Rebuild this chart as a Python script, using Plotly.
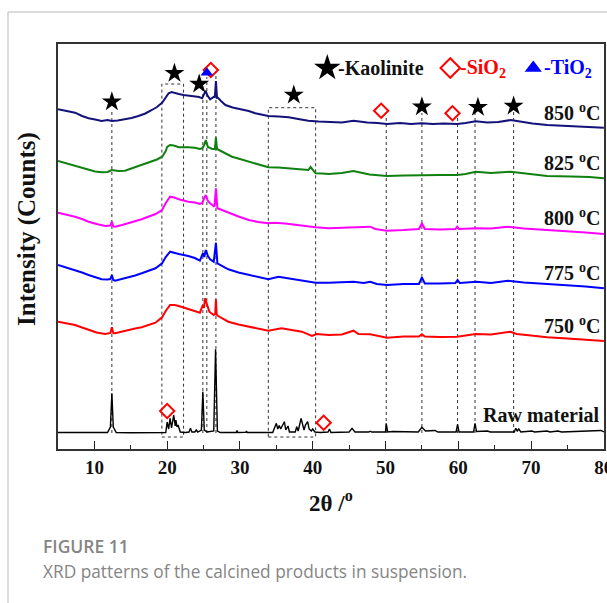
import plotly.graph_objects as go

# ---------------- XRD patterns (2theta in degrees, intensity in stacked arbitrary units) -------------
tt_850 = [5.0, 6.0, 7.35, 8.3, 9.2, 10.1, 11.0, 11.8, 12.4, 13.2,
          14.2, 15.1, 16.05, 17.0, 17.9, 18.6, 19.3, 19.8, 20.2, 20.6,
          21.1, 21.6, 22.25, 23.0, 23.85, 24.4, 24.8, 25.1, 25.3, 25.5,
          25.9, 26.45, 26.55, 26.7, 26.85, 26.9, 27.4, 28.0, 29.0, 30.3,
          31.2, 32.1, 33.0, 33.9, 35.3, 36.7, 38.0, 39.4, 40.8, 42.2,
          44.0, 45.6, 47.5, 48.9, 50.2, 52.0, 53.5, 55.0, 56.5, 58.0,
          59.85, 61.0, 62.4, 64.0, 65.5, 67.2, 68.5, 70.2, 72.2, 74.0,
          76.0, 78.0, 80.0]
i_850 = [339.7, 338.5, 336.3, 333, 330.7, 329.5, 328, 329, 328, 328.5,
         329.7, 331, 333, 335.5, 339, 342, 346.3, 352, 355.7, 357,
         355.7, 355, 354, 353.5, 353, 352, 350.7, 355, 358.3, 354,
         349.7, 352.3, 352, 368, 351.5, 351.7, 348, 344, 341.5, 339.7,
         338, 335.7, 334.5, 333, 332.5, 331.7, 330, 328.3, 327.5, 327,
         326.5, 328.3, 326.5, 326, 325, 326, 325, 325.7, 325, 325.5,
         325, 326, 327.7, 326.5, 327, 329, 327.5, 325.5, 324, 323.5,
         323, 322, 321.3]

tt_825 = [5.0, 6.2, 7.35, 8.3, 9.2, 10.1, 11.0, 11.8, 12.4, 13.3,
          14.2, 15.1, 16.05, 17.0, 17.9, 18.6, 19.3, 19.8, 20.0, 20.4,
          20.9, 21.6, 22.9, 23.8, 24.5, 24.8, 25.1, 25.3, 25.6, 25.9,
          26.2, 26.55, 26.7, 26.85, 27.1, 28.0, 28.9, 30.0, 31.2, 32.5,
          33.9, 35.3, 36.7, 38.0, 39.4, 39.7, 40.4, 41.3, 42.2, 44.0,
          45.6, 47.8, 50.2, 52.5, 55.0, 57.5, 59.85, 61.0, 62.4, 64.5,
          67.2, 69.5, 72.2, 75.5, 78.0, 80.0]
i_825 = [288, 285.5, 283, 280.5, 279, 277.5, 276.7, 277, 279, 278,
         278.3, 280.5, 283, 285, 287.3, 289.5, 292.3, 298, 302, 304,
         303.5, 301.7, 301.7, 301.2, 300, 300.7, 304, 309, 302, 300.7,
         300, 300, 311.7, 300, 299, 296, 292.3, 290, 287.3, 284.5,
         281.7, 281.5, 280.7, 279.5, 279, 282, 275.7, 275.5, 275, 276,
         278, 274.5, 273, 273.5, 274, 274, 274, 275, 277.3, 276,
         277.3, 275.5, 273, 272.5, 272, 270.7]

tt_800 = [5.0, 6.2, 7.35, 8.3, 9.2, 10.3, 11.5, 12.2, 12.4, 12.6,
          12.85, 13.8, 14.7, 15.6, 16.5, 17.5, 18.4, 19.3, 19.8, 20.4,
          21.0, 21.6, 22.9, 23.8, 24.5, 24.8, 25.3, 25.6, 25.9, 26.5,
          26.7, 26.9, 27.5, 28.4, 29.8, 31.2, 32.5, 33.9, 34.8, 36.2,
          37.6, 39.0, 40.4, 42.2, 44.0, 46.0, 47.9, 48.6, 50.2, 52.5,
          54.6, 55.0, 55.4, 57.5, 59.6, 59.85, 60.1, 62.4, 64.5, 66.8,
          69.0, 72.2, 75.0, 77.5, 80.0]
i_800 = [236.3, 234.5, 232.3, 230, 227.3, 225, 223, 223.5, 227.3, 222.5,
         222.3, 224, 225.7, 227.5, 229.7, 232.5, 235, 239, 246, 252.3,
         251.5, 249.7, 247.3, 246.5, 245, 246, 254, 248, 245.7, 242.3,
         260.7, 240.7, 239, 235.7, 232.5, 229, 227, 225.7, 226.3, 225.5,
         224, 223, 221.7, 220.7, 221, 221.5, 222.3, 220, 218.3, 219,
         220, 225.7, 220, 219.5, 220, 222.3, 220, 220.7, 220.5, 222.3,
         220.5, 219, 218, 216.5, 215]

tt_775 = [5.0, 6.2, 7.35, 8.3, 9.2, 10.1, 11.0, 11.8, 12.2, 12.4,
          12.6, 12.85, 13.8, 14.7, 15.6, 16.5, 17.5, 18.4, 19.3, 19.8,
          20.4, 21.0, 21.6, 22.9, 23.8, 24.5, 24.9, 25.1, 25.3, 25.6,
          25.9, 26.4, 26.7, 26.9, 27.5, 28.4, 29.8, 31.2, 32.5, 33.9,
          35.3, 36.5, 37.6, 39.0, 40.4, 42.2, 44.0, 45.6, 47.0, 47.9,
          48.8, 50.2, 52.5, 54.6, 55.0, 55.4, 57.5, 59.6, 59.9, 60.2,
          62.5, 64.5, 66.8, 69.0, 72.2, 75.0, 77.5, 80.0]
i_775 = [184, 181.5, 179, 176.5, 174, 171.5, 169.7, 169.5, 170, 174,
         169, 168.3, 170, 171.7, 173.5, 175.7, 178, 180.7, 185.7, 192,
         197.3, 196.5, 195, 193, 191, 188.3, 195.7, 192, 199, 193,
         189.7, 187.3, 206.3, 185.7, 183.5, 179.7, 176.5, 174, 171.5, 169.7,
         172.3, 171, 169.7, 168, 166.3, 166.3, 166.5, 167.3, 166, 167.3,
         165, 164, 165, 165, 171.7, 165.5, 165.5, 166, 169, 166,
         167.3, 166, 168.3, 166.5, 165, 164, 162.5, 160.7]

tt_750 = [5.0, 6.2, 7.35, 8.3, 9.2, 10.3, 11.5, 12.2, 12.4, 12.6,
          12.85, 13.8, 14.7, 15.6, 16.5, 17.5, 18.4, 19.3, 19.8, 20.4,
          21.0, 21.6, 22.9, 23.8, 24.5, 24.9, 25.05, 25.2, 25.5, 25.8,
          26.4, 26.6, 26.7, 26.8, 27.0, 27.6, 28.4, 29.8, 31.2, 32.5,
          33.9, 35.7, 37.0, 38.5, 39.9, 40.5, 42.2, 44.0, 45.6, 46.3,
          47.9, 50.2, 52.5, 54.6, 55.0, 55.4, 57.5, 59.85, 62.4, 64.5,
          67.2, 68.0, 70.0, 72.2, 75.0, 77.5, 80.0]
i_750 = [127.3, 126, 124, 121.5, 119, 116.5, 115, 116, 121.7, 116,
         115.7, 117.5, 119, 120.5, 121.7, 124, 126.3, 131.7, 138, 144,
         144, 143, 139.7, 138, 136.3, 144, 141, 150.7, 143, 137.3,
         134, 135, 149.7, 134.5, 133, 130.5, 127.3, 124.5, 122.3, 120,
         118.3, 120.7, 119, 117.3, 113, 115, 114, 114.5, 118.3, 115,
         114.7, 111.3, 112.5, 112.5, 114.7, 112.5, 112, 112.3, 115, 114.5,
         117.3, 115, 113.5, 111.7, 110.5, 109.5, 108]

tt_raw = [5.0, 8.0, 11.8, 12.2, 12.4, 12.6, 13.0, 15.0, 18.0, 19.8,
          20.0, 20.2, 20.4, 20.6, 20.9, 21.1, 21.2, 21.35, 21.5, 21.8,
          22.5, 23.0, 23.2, 23.4, 23.8, 24.0, 24.2, 24.7, 24.9, 25.1,
          25.5, 26.4, 26.65, 26.9, 27.3, 29.5, 29.6, 29.7, 30.8, 30.9,
          31.0, 34.5, 34.8, 35.0, 35.2, 35.4, 35.6, 35.9, 36.1, 36.3,
          36.6, 36.8, 37.6, 37.8, 38.0, 38.4, 38.6, 38.8, 39.0, 39.3,
          39.5, 39.8, 40.0, 40.3, 41.0, 42.1, 42.3, 42.5, 45.0, 45.4,
          45.8, 47.7, 47.9, 48.1, 50.0, 50.1, 50.3, 51.0, 54.5, 55.0,
          55.5, 56.8, 57.2, 59.7, 59.9, 60.1, 62.1, 62.3, 62.5, 64.0,
          64.4, 67.7, 67.9, 68.1, 68.3, 68.6, 70.1, 70.5, 72.2, 72.6,
          73.7, 74.2, 76.0, 79.6, 80.0]
i_raw = [16.5, 16.3, 16.5, 22, 55.7, 22, 16.5, 16.3, 16.4, 16.5,
         27, 20, 30.7, 21, 34, 23, 29, 22, 24, 17,
         16.5, 17, 20.7, 17, 17, 19, 17, 19, 57.3, 19,
         17, 18, 99.7, 18, 16.5, 16.5, 18.5, 16.5, 16.6, 18,
         16.5, 16.5, 22, 25.7, 20, 23.5, 20, 24, 27.3, 19,
         23, 17, 17, 22.3, 18, 30.7, 25, 19, 24, 27.3,
         20, 18, 20, 17, 16.5, 17, 20, 16.5, 17, 20.7,
         17, 17, 17.8, 17, 17, 25.7, 17, 17.5, 17, 21.7,
         18, 18.5, 17, 17, 24.7, 17, 17, 25.7, 17.5, 18,
         17, 17, 20.7, 18, 20, 17, 18, 17, 18, 17,
         18, 17, 17.5, 18.5, 17]

series = [
    (tt_850, i_850, "#12127a", 2.0, "850 <sup>o</sup>C", 337.3),
    (tt_825, i_825, "#108010", 2.0, "825 <sup>o</sup>C", 287.3),
    (tt_800, i_800, "#ff00ff", 2.0, "800 <sup>o</sup>C", 232.3),
    (tt_775, i_775, "#0000ff", 2.0, "775 <sup>o</sup>C", 177.3),
    (tt_750, i_750, "#ff0000", 2.0, "750 <sup>o</sup>C", 124.0),
    (tt_raw, i_raw, "#000000", 1.4, "Raw material", 34.0),
]

# Phase assignments: reference lines (position, top of the line) and symbol positions
ref_lines_tt = [12.4, 24.9, 25.45, 26.7, 50.1, 55.0, 59.9, 62.3, 67.6]
ref_lines_top = [339, 359, 372, 374, 334, 336, 332, 336, 337]
ref_line_bottom = 16

kaolinite_tt = [12.4, 21.0, 24.4, 37.4, 55.0, 62.7, 67.6]
kaolinite_i = [347.3, 375.7, 365, 354, 342.3, 341.7, 343]
sio2_tt = [26.0, 49.4, 59.2, 20.0, 41.5]
sio2_i = [379, 338.3, 335.7, 38, 26.3]
tio2_tt = [25.45]
tio2_i = [376.3]

# dotted boxes around the amorphous / clustered regions: (x0, x1, y0, y1)
boxes = [(19.27, 22.25, 12, 365), (33.9, 40.4, 12, 341.3)]

FONT = "Liberation Serif"

fig = go.Figure()

for k in range(len(ref_lines_tt)):
    fig.add_shape(type="line", xref="x", yref="y",
                  x0=ref_lines_tt[k], x1=ref_lines_tt[k],
                  y0=ref_line_bottom, y1=ref_lines_top[k],
                  line=dict(color="#333333", width=1, dash="dot"), layer="below")

for bx0, bx1, by0, by1 in boxes:
    fig.add_shape(type="rect", xref="x", yref="y", x0=bx0, x1=bx1, y0=by0, y1=by1,
                  line=dict(color="#333333", width=1, dash="dot"), layer="below")

for tt, ii, color, width, label, label_y in series:
    fig.add_trace(go.Scatter(x=tt, y=ii, mode="lines",
                             line=dict(color=color, width=width),
                             showlegend=False, hoverinfo="skip"))
    fig.add_annotation(x=80, y=label_y, xref="x", yref="y", xanchor="right",
                       yanchor="middle", xshift=-2, showarrow=False,
                       text="<b>" + label + "</b>",
                       font=dict(family=FONT, size=20, color="#111111"))

fig.add_trace(go.Scatter(x=kaolinite_tt, y=kaolinite_i, mode="markers",
                         marker=dict(symbol="star", size=15, color="black",
                                     line=dict(width=0)),
                         showlegend=False, hoverinfo="skip"))
fig.add_trace(go.Scatter(x=sio2_tt, y=sio2_i, mode="markers",
                         marker=dict(symbol="diamond-open", size=11, color="#ff0000",
                                     line=dict(width=2, color="#ff0000")),
                         showlegend=False, hoverinfo="skip"))
fig.add_trace(go.Scatter(x=tio2_tt, y=tio2_i, mode="markers",
                         marker=dict(symbol="triangle-up", size=11, color="#0000ff"),
                         showlegend=False, hoverinfo="skip"))

# key for the phase symbols
key_i = 381
fig.add_trace(go.Scatter(x=[42.0], y=[key_i], mode="markers",
                         marker=dict(symbol="star", size=20, color="black"),
                         showlegend=False, hoverinfo="skip"))
fig.add_trace(go.Scatter(x=[58.9], y=[key_i], mode="markers",
                         marker=dict(symbol="diamond-open", size=15, color="#ff0000",
                                     line=dict(width=2, color="#ff0000")),
                         showlegend=False, hoverinfo="skip"))
fig.add_trace(go.Scatter(x=[70.3], y=[key_i], mode="markers",
                         marker=dict(symbol="triangle-up", size=15, color="#0000ff"),
                         showlegend=False, hoverinfo="skip"))
for kx, ktext, kcol in [(43.2, "-Kaolinite", "#111111"),
                        (59.9, "-SiO<sub>2</sub>", "#ff0000"),
                        (71.45, "-TiO<sub>2</sub>", "#0000ff")]:
    fig.add_annotation(x=kx, y=key_i, xref="x", yref="y", xanchor="left",
                       yanchor="middle", showarrow=False, text="<b>" + ktext + "</b>",
                       font=dict(family=FONT, size=20, color=kcol))

# plot geometry (pixels) for placing the outer texts in paper coordinates
W, H = 607, 603
ML, MR, MT, MB = 58, 3, 44, 154
PW, PH = W - ML - MR, H - MT - MB


def px(xp):
    return (xp - ML) / PW


def py(yp):
    return (H - MB - yp) / PH


fig.add_annotation(x=px(27), y=py(229), xref="paper", yref="paper", textangle=-90,
                   xanchor="center", yanchor="middle",
                   showarrow=False, text="<b>Intensity (Counts)</b>",
                   font=dict(family=FONT, size=25, color="#111111"))
fig.add_annotation(x=px(331), y=py(501), xref="paper", yref="paper",
                   xanchor="center", yanchor="middle",
                   showarrow=False, text="<b>2θ /<sup>o</sup></b>",
                   font=dict(family=FONT, size=23, color="#111111"))
fig.add_annotation(x=px(41), y=py(546), xref="paper", yref="paper", xanchor="left",
                   yanchor="middle", showarrow=False, text="FIGURE 11",
                   font=dict(family="Open Sans", size=17.5, color="#858585", weight=600))
fig.add_annotation(x=px(41), y=py(571), xref="paper", yref="paper", xanchor="left",
                   yanchor="middle", showarrow=False,
                   text="XRD patterns of the calcined products in suspension.",
                   font=dict(family="Open Sans", size=17.3, color="#858585"))

# light frame around the figure
fig.add_shape(type="line", xref="paper", yref="paper", x0=px(8), x1=px(8),
              y0=py(12), y1=py(603), line=dict(color="#d0d0d0", width=1.5))
fig.add_shape(type="line", xref="paper", yref="paper", x0=px(8), x1=px(607),
              y0=py(12), y1=py(12), line=dict(color="#d0d0d0", width=1.5))

fig.update_xaxes(range=[5, 80.02], tick0=0, dtick=10, ticks="inside", ticklen=8,
                 tickwidth=1.3, tickcolor="#222222", ticklabeloverflow="allow",
                 automargin=False,
                 minor=dict(dtick=5, tick0=0, ticks="inside", ticklen=4,
                            tickwidth=1.3, tickcolor="#222222"),
                 showline=True, linecolor="#333333", linewidth=1.6, mirror=True,
                 showgrid=False, zeroline=False,
                 tickfont=dict(family=FONT, size=19, color="#111111", weight="bold"))
fig.update_yaxes(range=[0, 405], showticklabels=False, ticks="", automargin=False,
                 showline=True, linecolor="#333333", linewidth=1.6, mirror=True,
                 showgrid=False, zeroline=False)

fig.update_layout(width=W, height=H, autosize=False,
                  margin=dict(l=ML, r=MR, t=MT, b=MB),
                  paper_bgcolor="white", plot_bgcolor="white")

fig.write_html("out.html")
